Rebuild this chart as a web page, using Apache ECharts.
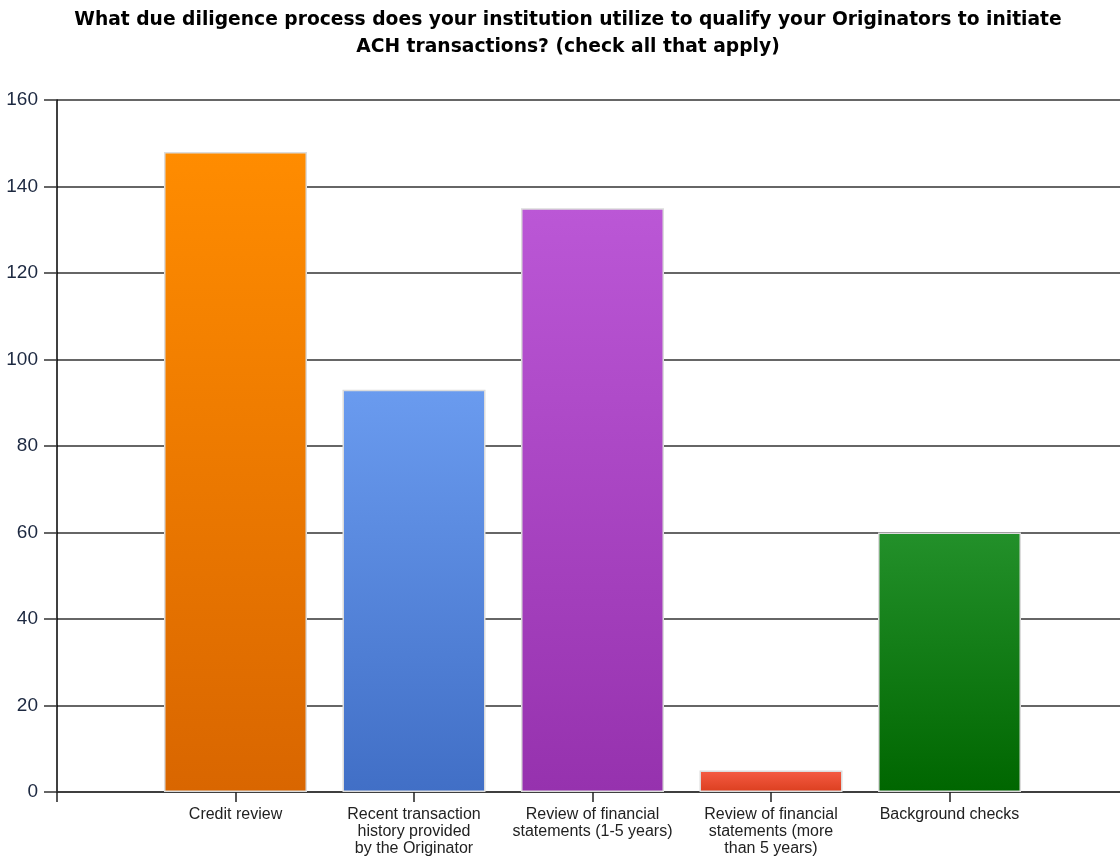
<!DOCTYPE html>
<html>
<head>
<meta charset="utf-8">
<script src="https://cdn.jsdelivr.net/npm/echarts@6/dist/echarts.min.js"></script>
<style>html,body{margin:0;padding:0;background:#fff;overflow:hidden}#c{width:1136px;height:859px}</style>
</head>
<body>
<div id="c"></div>
<script>
const titleText = 'What due diligence process does your institution utilize to qualify your Originators to initiate\nACH transactions? (check all that apply)';
const categories = ['Credit review', 'Recent transaction history provided by the Originator', 'Review of financial statements (1-5 years)', 'Review of financial statements (more than 5 years)', 'Background checks'];
const tickLabels = ['Credit review', 'Recent transaction\nhistory provided\nby the Originator', 'Review of financial\nstatements (1-5 years)', 'Review of financial\nstatements (more\nthan 5 years)', 'Background checks'];
const values = [148, 93, 135, 5, 60];
const yTicks = [0, 20, 40, 60, 80, 100, 120, 140, 160];
const gradients = [
  ['#FF8C00', '#D96600'],
  ['#6A9BEF', '#416FC6'],
  ['#BB57D6', '#9632AE'],
  ['#F65C44', '#DB3F1F'],
  ['#23902A', '#006600']
];

const axisCats = [''].concat(tickLabels, ['']);
const seriesData = ['-'].concat(values.map((v, i) => ({
  value: v,
  name: categories[i],
  itemStyle: {
    color: new echarts.graphic.LinearGradient(0, 0, 0, 1, [
      {offset: 0, color: gradients[i][0]},
      {offset: 1, color: gradients[i][1]}
    ])
  }
})), ['-']);

const chart = echarts.init(document.getElementById('c'), null, {renderer: 'canvas'});
chart.setOption({
  animation: false,
  backgroundColor: '#ffffff',
  title: {
    text: titleText,
    left: 'center',
    top: 2,
    padding: [5, 24, 5, 0],
    textStyle: {fontFamily: 'DejaVu Sans, sans-serif', fontSize: 18.7, fontWeight: 'bold', color: '#000', lineHeight: 27}
  },
  grid: {left: 57, right: 8, top: 100, bottom: 67, containLabel: false},
  xAxis: {
    type: 'category',
    data: axisCats,
    boundaryGap: false,
    axisLine: {show: true, lineStyle: {color: '#333', width: 1.5}},
    axisTick: {show: true, length: 10, interval: 0, lineStyle: {color: '#222', width: 1.5}},
    axisLabel: {interval: 0, margin: 14, color: '#222', fontFamily: 'Liberation Sans, Arial, sans-serif', fontSize: 16, lineHeight: 17, align: 'center'},
    splitLine: {show: false}
  },
  yAxis: {
    type: 'value',
    min: yTicks[0],
    max: yTicks[yTicks.length - 1],
    interval: 20,
    axisLine: {show: true, lineStyle: {color: '#000', width: 1.5}},
    axisTick: {show: true, length: 13, lineStyle: {color: '#333', width: 1.5}},
    axisLabel: {margin: 19, color: '#1c2840', fontFamily: 'Liberation Sans, Arial, sans-serif', fontSize: 19},
    splitLine: {show: true, lineStyle: {color: '#333', width: 1.5}}
  },
  series: [{
    type: 'bar',
    data: seriesData,
    barWidth: 143,
    itemStyle: {borderColor: '#dcdcdc', borderWidth: 1.5},
    z: 3
  }]
});
</script>
</body>
</html>
